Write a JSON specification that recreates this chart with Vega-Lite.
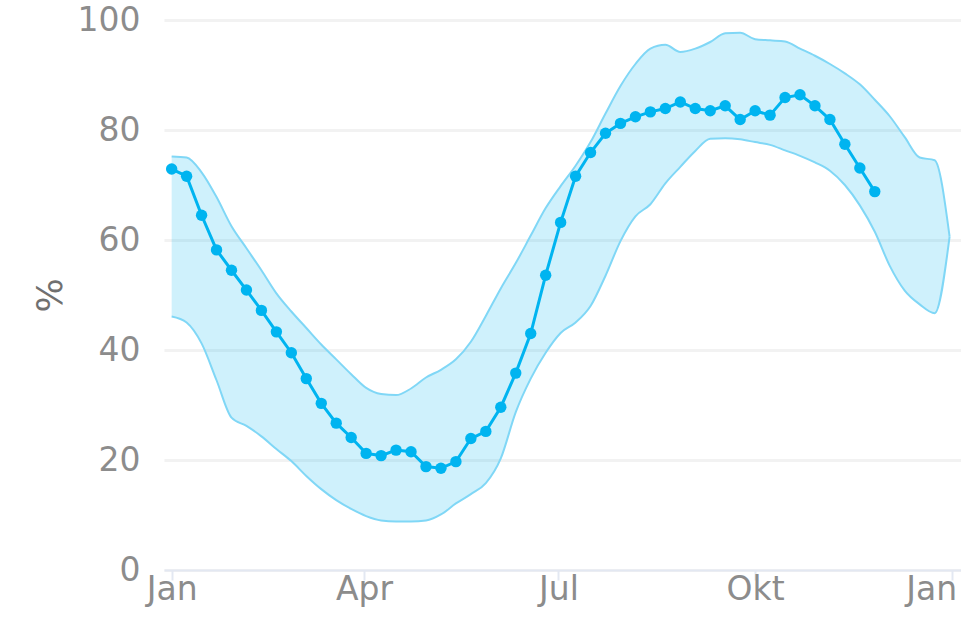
{
  "$schema": "https://vega.github.io/schema/vega-lite/v6.json",
  "autosize": "none",
  "width": 797,
  "height": 550,
  "padding": {"left": 164, "top": 20, "right": 0, "bottom": 70},
  "background": "white",
  "datasets": {
    "band": [
      {"date": "2023-01-01", "lo": 46.1, "hi": 75.2},
      {"date": "2023-01-08", "lo": 45.0, "hi": 75.0},
      {"date": "2023-01-15", "lo": 41.2, "hi": 72.3},
      {"date": "2023-01-22", "lo": 34.5, "hi": 67.8},
      {"date": "2023-01-29", "lo": 27.7, "hi": 62.5},
      {"date": "2023-02-05", "lo": 26.2, "hi": 58.5},
      {"date": "2023-02-12", "lo": 24.3, "hi": 54.5},
      {"date": "2023-02-19", "lo": 22.0, "hi": 50.3},
      {"date": "2023-02-26", "lo": 19.8, "hi": 47.0},
      {"date": "2023-03-05", "lo": 17.1, "hi": 44.0},
      {"date": "2023-03-12", "lo": 14.7, "hi": 41.0},
      {"date": "2023-03-19", "lo": 12.7, "hi": 38.3},
      {"date": "2023-03-26", "lo": 11.1, "hi": 35.6},
      {"date": "2023-04-02", "lo": 9.8, "hi": 33.1},
      {"date": "2023-04-09", "lo": 9.0, "hi": 32.0},
      {"date": "2023-04-16", "lo": 8.8, "hi": 31.8},
      {"date": "2023-04-23", "lo": 8.8, "hi": 33.0},
      {"date": "2023-04-30", "lo": 9.0, "hi": 35.0},
      {"date": "2023-05-07", "lo": 10.1, "hi": 36.4},
      {"date": "2023-05-14", "lo": 12.1, "hi": 38.3},
      {"date": "2023-05-21", "lo": 13.8, "hi": 41.5},
      {"date": "2023-05-28", "lo": 15.8, "hi": 46.2},
      {"date": "2023-06-04", "lo": 20.3, "hi": 51.2},
      {"date": "2023-06-11", "lo": 28.7, "hi": 55.8},
      {"date": "2023-06-18", "lo": 34.8, "hi": 60.8},
      {"date": "2023-06-25", "lo": 39.5, "hi": 65.8},
      {"date": "2023-07-02", "lo": 43.1, "hi": 69.8},
      {"date": "2023-07-09", "lo": 45.0, "hi": 73.5},
      {"date": "2023-07-16", "lo": 48.0, "hi": 77.8},
      {"date": "2023-07-23", "lo": 53.5, "hi": 83.0},
      {"date": "2023-07-30", "lo": 59.8, "hi": 88.0},
      {"date": "2023-08-06", "lo": 64.3, "hi": 92.0},
      {"date": "2023-08-13", "lo": 66.5, "hi": 94.8},
      {"date": "2023-08-20", "lo": 70.3, "hi": 95.5},
      {"date": "2023-08-27", "lo": 73.3, "hi": 94.2},
      {"date": "2023-09-03", "lo": 76.2, "hi": 94.8},
      {"date": "2023-09-10", "lo": 78.4, "hi": 96.0},
      {"date": "2023-09-17", "lo": 78.5, "hi": 97.6},
      {"date": "2023-09-24", "lo": 78.3, "hi": 97.7},
      {"date": "2023-10-01", "lo": 77.8, "hi": 96.5},
      {"date": "2023-10-08", "lo": 77.3, "hi": 96.3},
      {"date": "2023-10-15", "lo": 76.3, "hi": 96.1},
      {"date": "2023-10-22", "lo": 75.3, "hi": 94.8},
      {"date": "2023-10-29", "lo": 74.1, "hi": 93.5},
      {"date": "2023-11-05", "lo": 72.6, "hi": 92.0},
      {"date": "2023-11-12", "lo": 70.0, "hi": 90.3},
      {"date": "2023-11-19", "lo": 66.3, "hi": 88.3},
      {"date": "2023-11-26", "lo": 61.5, "hi": 85.5},
      {"date": "2023-12-03", "lo": 55.3, "hi": 82.5},
      {"date": "2023-12-10", "lo": 50.8, "hi": 78.7},
      {"date": "2023-12-17", "lo": 48.3, "hi": 75.0},
      {"date": "2023-12-24", "lo": 46.7, "hi": 74.5},
      {"date": "2023-12-31", "lo": 60.6, "hi": 60.6}
    ],
    "obs": [
      {"date": "2023-01-01", "val": 72.9},
      {"date": "2023-01-08", "val": 71.6},
      {"date": "2023-01-15", "val": 64.5},
      {"date": "2023-01-22", "val": 58.2},
      {"date": "2023-01-29", "val": 54.5},
      {"date": "2023-02-05", "val": 50.9},
      {"date": "2023-02-12", "val": 47.2},
      {"date": "2023-02-19", "val": 43.3},
      {"date": "2023-02-26", "val": 39.5},
      {"date": "2023-03-05", "val": 34.8},
      {"date": "2023-03-12", "val": 30.3},
      {"date": "2023-03-19", "val": 26.7},
      {"date": "2023-03-26", "val": 24.1},
      {"date": "2023-04-02", "val": 21.2},
      {"date": "2023-04-09", "val": 20.8},
      {"date": "2023-04-16", "val": 21.8},
      {"date": "2023-04-23", "val": 21.5},
      {"date": "2023-04-30", "val": 18.8},
      {"date": "2023-05-07", "val": 18.5},
      {"date": "2023-05-14", "val": 19.7},
      {"date": "2023-05-21", "val": 23.9},
      {"date": "2023-05-28", "val": 25.2},
      {"date": "2023-06-04", "val": 29.6},
      {"date": "2023-06-11", "val": 35.8},
      {"date": "2023-06-18", "val": 43.0},
      {"date": "2023-06-25", "val": 53.6},
      {"date": "2023-07-02", "val": 63.2},
      {"date": "2023-07-09", "val": 71.6},
      {"date": "2023-07-16", "val": 75.9},
      {"date": "2023-07-23", "val": 79.4},
      {"date": "2023-07-30", "val": 81.2},
      {"date": "2023-08-06", "val": 82.4},
      {"date": "2023-08-13", "val": 83.3},
      {"date": "2023-08-20", "val": 83.9},
      {"date": "2023-08-27", "val": 85.1},
      {"date": "2023-09-03", "val": 83.9},
      {"date": "2023-09-10", "val": 83.5},
      {"date": "2023-09-17", "val": 84.4},
      {"date": "2023-09-24", "val": 81.9},
      {"date": "2023-10-01", "val": 83.5},
      {"date": "2023-10-08", "val": 82.7},
      {"date": "2023-10-15", "val": 85.9},
      {"date": "2023-10-22", "val": 86.4},
      {"date": "2023-10-29", "val": 84.4},
      {"date": "2023-11-05", "val": 81.9},
      {"date": "2023-11-12", "val": 77.4},
      {"date": "2023-11-19", "val": 73.1},
      {"date": "2023-11-26", "val": 68.8}
    ]
  },
  "encoding": {
    "x": {
      "field": "date",
      "type": "temporal",
      "title": null,
      "scale": {
        "type": "utc",
        "domain": [
          {"year": 2022, "month": 12, "date": 28, "hours": 10, "utc": true},
          {"year": 2024, "month": 1, "date": 5, "hours": 8, "utc": true}
        ]
      },
      "axis": {
        "values": [
          {"year": 2023, "month": 1, "date": 1, "utc": true},
          {"year": 2023, "month": 4, "date": 1, "utc": true},
          {"year": 2023, "month": 7, "date": 1, "utc": true},
          {"year": 2023, "month": 10, "date": 1, "utc": true},
          {"year": 2024, "month": 1, "date": 1, "utc": true}
        ],
        "labelExpr": "['Jan','Feb','Mär','Apr','Mai','Jun','Jul','Aug','Sep','Okt','Nov','Dez'][utcmonth(datum.value)]",
        "labelAlign": {"condition": {"test": "utcyear(datum.value) == 2024", "value": "right"}, "value": "center"},
        "labelOffset": {"condition": {"test": "utcyear(datum.value) == 2024", "value": 5}, "value": 0},
        "labelOverlap": false
      }
    }
  },
  "layer": [
    {
      "data": {"name": "band"},
      "mark": {"type": "area", "color": "#00b4f0", "opacity": 0.19, "interpolate": "monotone"},
      "encoding": {
        "y": {"field": "hi", "type": "quantitative", "title": "%", "scale": {"domain": [0, 100]}, "axis": {"values": [0, 20, 40, 60, 80, 100]}},
        "y2": {"field": "lo"}
      }
    },
    {
      "data": {"name": "band"},
      "mark": {"type": "line", "color": "#80d7f6", "strokeWidth": 2, "interpolate": "monotone"},
      "encoding": {
        "y": {"field": "hi", "type": "quantitative", "title": "%"}
      }
    },
    {
      "data": {"name": "band"},
      "mark": {"type": "line", "color": "#80d7f6", "strokeWidth": 2, "interpolate": "monotone"},
      "encoding": {
        "y": {"field": "lo", "type": "quantitative", "title": "%"}
      }
    },
    {
      "data": {"name": "obs"},
      "mark": {"type": "line", "color": "#00b4f0", "strokeWidth": 3, "point": {"filled": true, "size": 130, "color": "#00b4f0", "opacity": 1}},
      "encoding": {
        "y": {"field": "val", "type": "quantitative", "title": "%"}
      }
    }
  ],
  "config": {
    "view": {"stroke": null},
    "axis": {
      "labelFont": "DejaVu Sans",
      "titleFont": "DejaVu Sans",
      "labelFontSize": 33,
      "titleFontSize": 36,
      "labelColor": "#8c8c8c",
      "titleColor": "#707070",
      "titleFontWeight": "normal"
    },
    "axisY": {
      "ticks": false,
      "domain": false,
      "gridColor": "#f2f2f2",
      "gridWidth": 3,
      "labelPadding": 24,
      "titlePadding": 8
    },
    "axisX": {
      "grid": false,
      "domainColor": "#e3e8f2",
      "domainWidth": 2,
      "tickColor": "#e3e8f2",
      "tickWidth": 2,
      "tickSize": 10,
      "labelPadding": -7
    }
  }
}
